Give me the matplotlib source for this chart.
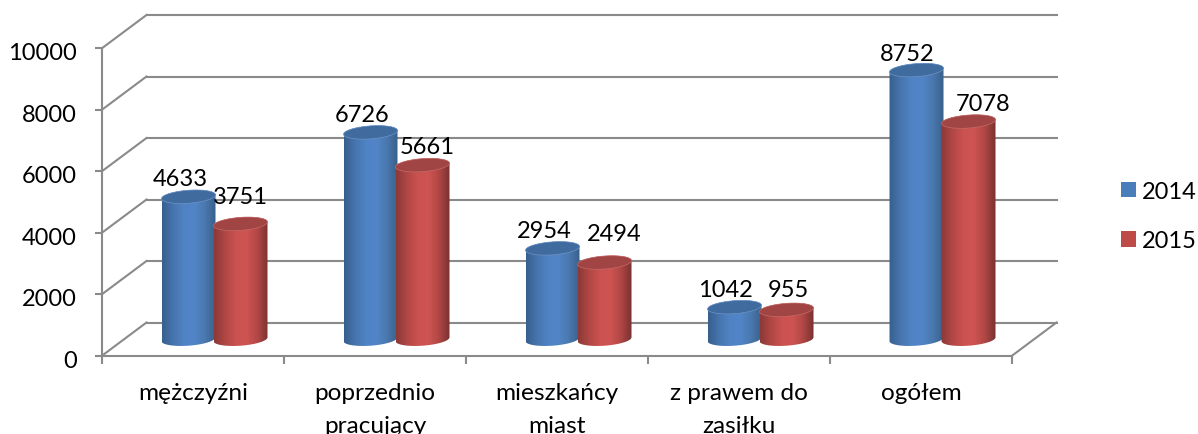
import numpy as np
import matplotlib
matplotlib.use("Agg")
import matplotlib.pyplot as plt
from matplotlib.colors import LinearSegmentedColormap
from matplotlib.patches import Patch, Polygon
from matplotlib.transforms import ScaledTranslation

plt.rcParams['font.family'] = ['Lato', 'DejaVu Sans']

# values
categories = ['mężczyźni', 'poprzednio\npracujący', 'mieszkańcy\nmiast', 'z prawem do\nzasiłku', 'ogółem']
values_2014 = [4633, 6726, 2954, 1042, 8752]
values_2015 = [3751, 5661, 2494, 955, 7078]
y_ticks = [0, 2000, 4000, 6000, 8000, 10000]

# label shifts in pixels from the top of each cylinder
shift_2014 = [(-8, 18), (-8, 18), (-8, 18), (-9, 18), (-9, 17)]
shift_2015 = [(0, 27), (5, 19), (10, 29), (2, 20), (15, 18)]

grid_color = '#8a8a8a'
blue_cmap = LinearSegmentedColormap.from_list('b', ['#38608f', '#4674ad', '#5083c4', '#5285c8', '#4a78ae', '#38608c'])
red_cmap = LinearSegmentedColormap.from_list('r', ['#8c3937', '#b04745', '#ca5250', '#ce5452', '#b04745', '#7a3130'])

fig = plt.figure(figsize=(11.98, 4.35), dpi=100)
# the axes is the front plane of the 3D box
ax = fig.add_axes([102 / 1198, 1 - 356.7 / 435, 910 / 1198, 307.5 / 435])
ax.set_xlim(0, 5)
ax.set_ylim(0, 10000)

# pixels to data units
sx = 5 / 910
sy = 10000 / 307.5
depth_x = 44.5 * sx
depth_y = 33.2 * sy

# box walls
for t in y_ticks:
    ax.plot([0, depth_x], [t, t + depth_y], color=grid_color, lw=1.5, clip_on=False, zorder=1)
    ax.plot([depth_x, 5 + depth_x], [t + depth_y, t + depth_y], color=grid_color, lw=1.5, clip_on=False, zorder=1)
ax.plot([5, 5 + depth_x], [0, depth_y], color=grid_color, lw=1.5, clip_on=False, zorder=1)


def cylinder(x_center, value, cmap, cap_color, rim_color, z):
    a = 27 * sx
    b = 6.5 * sy
    tilt = 0.07 * sy / sx
    xc = x_center + 21.5 * sx
    y0 = 16.5 * sy
    y1 = value + 16.5 * sy
    t = np.linspace(0, 2 * np.pi, 80)
    ex = a * np.cos(t)
    ey = b * np.sin(t) + tilt * ex
    low = t >= np.pi
    up = t <= np.pi
    # body: lower half of the base ellipse and upper half of the top one
    verts = np.vstack([
        np.column_stack([xc + ex[low], y0 + ey[low]]),
        np.column_stack([xc + ex[up], y1 + ey[up]]),
    ])
    body = Polygon(verts, closed=True, transform=ax.transData, facecolor='none', edgecolor='none')
    ax.add_patch(body)
    grad = np.linspace(0, 1, 100).reshape(1, -1)
    im = ax.imshow(grad, cmap=cmap, aspect='auto', zorder=z, interpolation='bilinear',
                   extent=(xc - a, xc + a, y0 - 2 * b, y1 + 2 * b))
    im.set_clip_path(body)
    im.set_clip_on(True)
    cap = Polygon(np.column_stack([xc + ex, y1 + ey]), closed=True, facecolor=cap_color,
                  edgecolor=rim_color, lw=0.5, zorder=z + 0.1, clip_on=False)
    ax.add_patch(cap)
    return xc, y1


for i in range(len(categories)):
    xc, yt = cylinder(i + 0.5 - 26 * sx, values_2014[i], blue_cmap, '#3f6b9f', '#6d94c6', 3)
    ax.annotate(str(values_2014[i]), (xc, yt), xytext=shift_2014[i],
                textcoords='offset pixels', ha='center', va='center', fontsize=17, color='black', zorder=6)
for i in range(len(categories)):
    xc, yt = cylinder(i + 0.5 + 26 * sx, values_2015[i], red_cmap, '#a04543', '#c46a68', 4)
    ax.annotate(str(values_2015[i]), (xc, yt), xytext=shift_2015[i],
                textcoords='offset pixels', ha='center', va='center', fontsize=17, color='black', zorder=6)

ax.set_xlim(0, 5)
ax.set_ylim(0, 10000)
ax.patch.set_visible(False)

for side in ['top', 'right']:
    ax.spines[side].set_visible(False)
for side in ['left', 'bottom']:
    ax.spines[side].set_color(grid_color)
    ax.spines[side].set_linewidth(1.5)

ax.set_yticks(y_ticks)
ax.set_xticks(range(6))
ax.set_xticklabels([])
ax.set_xticks(np.arange(5) + 0.5, categories, minor=True, fontsize=17.6, linespacing=1.7)
ax.tick_params(axis='x', which='major', length=6, width=1.5, color=grid_color)
ax.tick_params(axis='x', which='minor', length=0, pad=19)
ax.tick_params(axis='y', length=5, width=1.5, color=grid_color, labelsize=17, pad=13)

# y labels sit slightly below their ticks
down = ScaledTranslation(0, -2 / 72, fig.dpi_scale_trans)
for lab in ax.get_yticklabels():
    lab.set_transform(lab.get_transform() + down)

handles = [Patch(facecolor='#4a7ebb', label='2014'), Patch(facecolor='#be4b48', label='2015')]
fig.legend(handles=handles, loc='upper left', bbox_to_anchor=(1121 / 1198, 1 - 182 / 435), frameon=False,
           fontsize=17, handlelength=0.635, handleheight=0.635, handletextpad=0.25, labelspacing=1.2,
           borderpad=0, borderaxespad=0)

fig.savefig('out.png', dpi=100)
